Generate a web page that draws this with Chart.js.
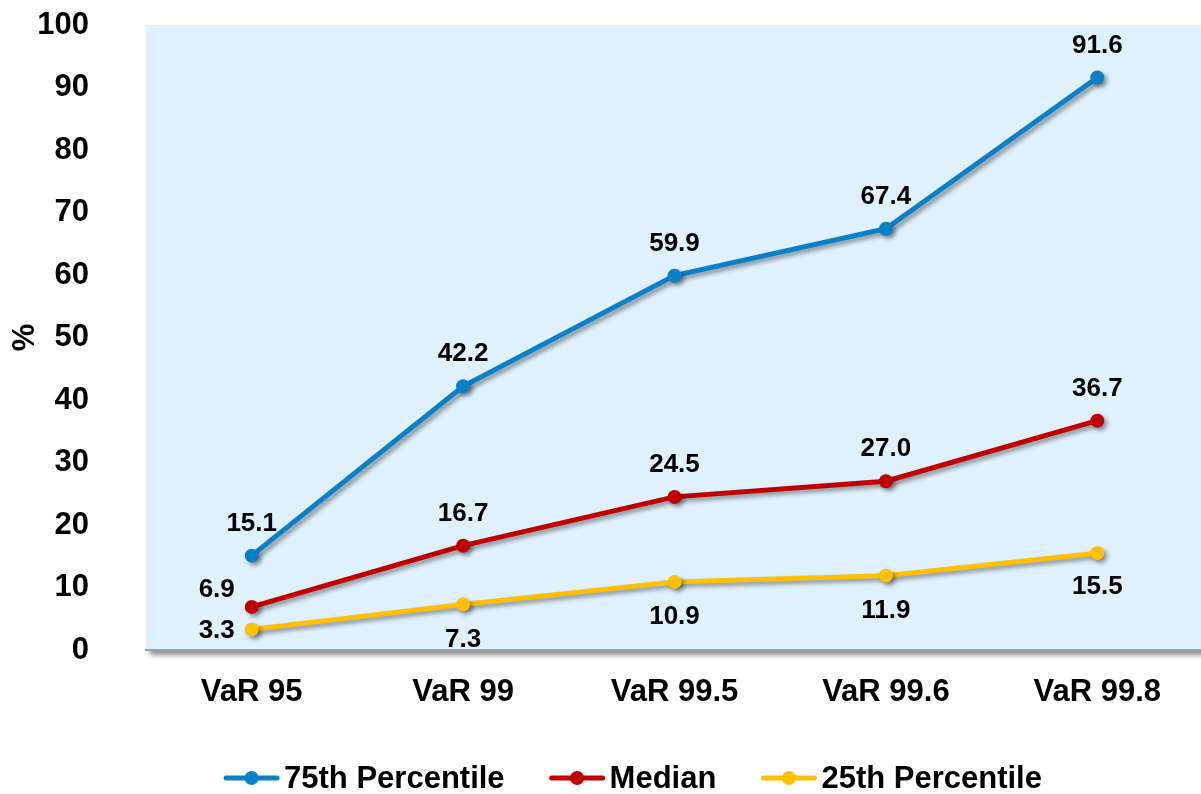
<!DOCTYPE html>
<html>
<head>
<meta charset="utf-8">
<script src="https://cdn.jsdelivr.net/npm/chart.js@4.4.1/dist/chart.umd.min.js"></script>
<style>
  html, body { margin: 0; padding: 0; background: #ffffff; overflow: hidden; }
  #wrap { position: relative; width: 1210px; height: 794px; }
</style>
</head>
<body>
<div id="wrap"><canvas id="chart" width="1210" height="794"></canvas></div>
<script>
// Confidence levels on the x axis
const categories = ['VaR 95', 'VaR 99', 'VaR 99.5', 'VaR 99.6', 'VaR 99.8'];

// Series values (%)
const p75Values    = [15.1, 42.2, 59.9, 67.4, 91.6];
const medianValues = [6.9, 16.7, 24.5, 27.0, 36.7];
const p25Values    = [3.3, 7.3, 10.9, 11.9, 15.5];

// Series names
const seriesNames = ['75th Percentile', 'Median', '25th Percentile'];

// Y axis range
const yMin = 0;
const yMax = 100;
const yStep = 10;

const FONT = '"Liberation Sans", Arial, Helvetica, sans-serif';
const COLORS = ['#0A80C8', '#C00000', '#FFC000'];

// Where each value label sits relative to its point (pixels)
const labelPlacement = [
  [[0, -32], [0, -32], [0, -32], [0, -32], [0, -32]],
  [[-35, -17], [0, -32], [0, -32], [0, -32], [0, -32]],
  [[-35, 1], [0, 35], [0, 35], [0, 35], [0, 34]]
];

// Light blue plot area with a soft drop shadow
const plotBackground = {
  id: 'plotBackground',
  beforeDraw(chart) {
    const { ctx, chartArea: a } = chart;
    ctx.save();
    ctx.shadowColor = 'rgba(0,0,0,0.45)';
    ctx.shadowOffsetX = 4;
    ctx.shadowOffsetY = 5;
    ctx.shadowBlur = 5;
    ctx.fillStyle = '#DFF1FD';
    ctx.fillRect(a.left, a.top, a.right - a.left, a.bottom - a.top);
    ctx.restore();
  }
};

// Shadow under the lines and markers
const lineShadow = {
  id: 'lineShadow',
  beforeDatasetDraw(chart) {
    const ctx = chart.ctx;
    ctx.save();
    ctx.shadowColor = 'rgba(0,0,0,0.4)';
    ctx.shadowOffsetX = 3;
    ctx.shadowOffsetY = 3;
    ctx.shadowBlur = 4;
  },
  afterDatasetDraw(chart) {
    chart.ctx.restore();
  }
};

// Value labels next to every point
const valueLabels = {
  id: 'valueLabels',
  afterDatasetsDraw(chart) {
    const ctx = chart.ctx;
    ctx.save();
    ctx.font = 'bold 26px ' + FONT;
    ctx.fillStyle = '#000000';
    ctx.textAlign = 'center';
    ctx.textBaseline = 'middle';
    chart.data.datasets.forEach((ds, i) => {
      const meta = chart.getDatasetMeta(i);
      meta.data.forEach((pt, j) => {
        const off = labelPlacement[i][j];
        ctx.fillText(ds.data[j].toFixed(1), pt.x + off[0], pt.y + off[1]);
      });
    });
    ctx.restore();
  }
};

// Legend: line-with-marker swatch followed by the series name
const lineLegend = {
  id: 'lineLegend',
  afterDraw(chart) {
    const ctx = chart.ctx;
    const swatch = 55, gapText = 5, gapItem = 45, centerX = 633, y = 778;
    ctx.save();
    ctx.font = 'bold 31px ' + FONT;
    ctx.textBaseline = 'middle';
    ctx.textAlign = 'left';
    const items = chart.data.datasets.map(ds => ({
      label: ds.label, color: ds.borderColor, w: ctx.measureText(ds.label).width
    }));
    const total = items.reduce((s, it) => s + swatch + gapText + it.w, 0) + gapItem * (items.length - 1);
    let x = centerX - total / 2;
    items.forEach(it => {
      ctx.strokeStyle = it.color;
      ctx.lineWidth = 5;
      ctx.lineCap = 'round';
      ctx.beginPath();
      ctx.moveTo(x + 2, y);
      ctx.lineTo(x + swatch - 2, y);
      ctx.stroke();
      ctx.fillStyle = it.color;
      ctx.beginPath();
      ctx.arc(x + swatch / 2, y, 7, 0, Math.PI * 2);
      ctx.fill();
      ctx.fillStyle = '#000000';
      ctx.fillText(it.label, x + swatch + gapText, y + 1);
      x += swatch + gapText + it.w + gapItem;
    });
    ctx.restore();
  }
};

const seriesValues = [p75Values, medianValues, p25Values];

new Chart(document.getElementById('chart'), {
  type: 'line',
  data: {
    labels: categories,
    datasets: seriesValues.map((vals, i) => ({
      label: seriesNames[i],
      data: vals,
      borderColor: COLORS[i],
      backgroundColor: COLORS[i],
      pointBackgroundColor: COLORS[i],
      pointBorderColor: COLORS[i],
      borderWidth: 5,
      pointRadius: 7,
      pointBorderWidth: 0,
      tension: 0,
      fill: false,
      clip: false
    }))
  },
  options: {
    responsive: false,
    devicePixelRatio: 1,
    animation: false,
    events: [],
    layout: { padding: { top: 25, right: 1, left: 0, bottom: 0 } },
    plugins: {
      legend: { display: false },
      tooltip: { enabled: false },
      title: { display: false }
    },
    scales: {
      x: {
        offset: true,
        grid: { display: false, drawTicks: false },
        border: { display: true, color: '#A0A0A0', width: 2 },
        ticks: {
          color: '#000000',
          font: { family: FONT, size: 31, weight: 'bold' },
          padding: 24,
          maxRotation: 0
        },
        afterFit(scale) {
          scale.height = 144;
          scale.paddingLeft = 0;
          scale.paddingRight = 0;
        }
      },
      y: {
        min: yMin,
        max: yMax,
        grid: { display: false, drawTicks: false },
        border: { display: false },
        ticks: {
          stepSize: yStep,
          color: '#000000',
          font: { family: FONT, size: 31, weight: 'bold' },
          padding: 57
        },
        title: {
          display: true,
          text: '%',
          color: '#000000',
          font: { family: FONT, size: 31, weight: 'bold' },
          padding: { top: 7, bottom: 0 }
        },
        afterFit(scale) {
          scale.width = 146;
          scale.paddingTop = 0;
          scale.paddingBottom = 0;
        }
      }
    }
  },
  plugins: [plotBackground, lineShadow, valueLabels, lineLegend]
});
</script>
</body>
</html>
